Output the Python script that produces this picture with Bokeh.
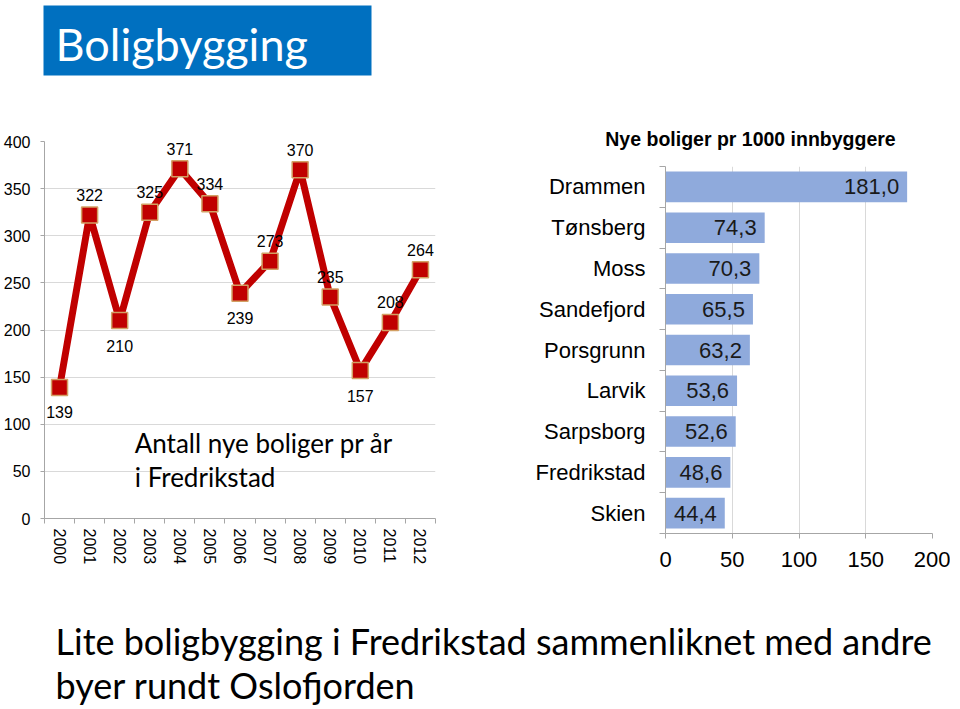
import math
from bokeh.plotting import figure
from bokeh.layouts import column, row
from bokeh.models import Range1d, FixedTicker, ColumnDataSource
from bokeh.core.properties import value
from bokeh.embed import file_html
from bokeh.resources import INLINE

# ---------------- data ----------------
years = [2000, 2001, 2002, 2003, 2004, 2005, 2006, 2007, 2008, 2009, 2010, 2011, 2012]
boliger = [139, 322, 210, 325, 371, 334, 239, 273, 370, 235, 157, 208, 264]
left_yticks = [0, 50, 100, 150, 200, 250, 300, 350, 400]

byer = ["Drammen", "Tønsberg", "Moss", "Sandefjord", "Porsgrunn",
        "Larvik", "Sarpsborg", "Fredrikstad", "Skien"]
per_1000 = [181.0, 74.3, 70.3, 65.5, 63.2, 53.6, 52.6, 48.6, 44.4]
right_xticks = [0, 50, 100, 150, 200]

main_title = "Boligbygging"
left_note = ["Antall nye boliger pr år", "i Fredrikstad"]
right_title = "Nye boliger pr 1000 innbyggere"
caption = ["Lite boligbygging i Fredrikstad sammenliknet med andre",
           "byer rundt Oslofjorden"]

# label placement (style): below point or above
label_below = [True, False, True, False, False, False, True, False, False, False, True, False, False]

ARIAL = value("Liberation Sans")
CAL = value("Lato")
W = 950
LW = 450
RW = W - LW
AXIS_GRAY = "#A6A6A6"
GRID_GRAY = "#D9D9D9"


def blank(fig):
    fig.axis.visible = False
    fig.grid.visible = False
    fig.outline_line_color = None


def canvas(width, height):
    f = figure(width=width, height=height, x_range=Range1d(0, width), y_range=Range1d(height, 0),
               title=None, toolbar_location=None, output_backend="svg", min_border=0,
               frame_align=False)
    blank(f)
    return f


# ---------------- title strip ----------------
TH = 118
tf = canvas(W, TH)
tf.quad(left=43, right=371, top=5, bottom=75, fill_color="#0070C0", line_color=None)
tf.text(x=[55], y=[43], text=[main_title], text_font=CAL, text_font_size="45px",
        text_color="white", text_baseline="middle", text_align="left")

# ---------------- left line chart ----------------
RH = 457
pl = figure(width=LW, height=RH, x_range=Range1d(1999.5, 2012.5), y_range=Range1d(0, 400),
            title=None, toolbar_location=None, output_backend="svg", frame_align=False,
            min_border_left=44, min_border_right=15, min_border_top=23, min_border_bottom=57)
pl.outline_line_color = None
pl.xgrid.visible = False
pl.ygrid.ticker = FixedTicker(ticks=left_yticks)
pl.ygrid.grid_line_color = GRID_GRAY

pl.yaxis.ticker = FixedTicker(ticks=left_yticks)
pl.yaxis.major_tick_out = 4
pl.yaxis.major_tick_in = 0
pl.yaxis.minor_tick_line_color = None
pl.yaxis.axis_line_color = AXIS_GRAY
pl.yaxis.major_tick_line_color = AXIS_GRAY
pl.yaxis.major_label_text_font = "Liberation Sans"
pl.yaxis.major_label_text_font_size = "16px"
pl.yaxis.major_label_text_color = "#000000"
pl.yaxis.major_label_standoff = 10

boundaries = [y - 0.5 for y in years] + [years[-1] + 0.5]
pl.xaxis.ticker = FixedTicker(ticks=years, minor_ticks=boundaries)
pl.xaxis.major_tick_out = 0
pl.xaxis.major_tick_in = 0
pl.xaxis.minor_tick_out = 5
pl.xaxis.minor_tick_in = 0
pl.xaxis.minor_tick_line_color = AXIS_GRAY
pl.xaxis.axis_line_color = AXIS_GRAY
pl.xaxis.major_label_orientation = -math.pi / 2
pl.xaxis.major_label_text_font = "Liberation Sans"
pl.xaxis.major_label_text_font_size = "16px"
pl.xaxis.major_label_text_color = "#000000"
pl.xaxis.major_label_standoff = 5

src = ColumnDataSource(dict(
    x=years, y=boliger, t=[str(v) for v in boliger],
    off=[25 if b else -20 for b in label_below]))
pl.line("x", "y", source=src, line_color="#C00000", line_width=7, line_join="round")
pl.scatter("x", "y", source=src, marker="square", size=16, fill_color="#C00000",
           line_color="#D2A064", line_width=1.5)
pl.text("x", "y", text="t", source=src, y_offset="off", text_align="center",
        text_baseline="middle", text_font=ARIAL, text_font_size="16px", text_color="#000000")

pl.text(x=[2002.5, 2002.5], y=[80.5, 44.5], text=left_note, text_font=CAL,
        text_font_size="26px", text_color="#000000", text_baseline="middle",
        text_align="left")

# ---------------- right bar chart ----------------
RT = 48
tr = canvas(RW, RT)
tr.text(x=[300], y=[20], text=[right_title], text_font=ARIAL, text_font_size="19.5px",
        text_font_style="bold", text_color="#000000", text_baseline="middle",
        text_align="center")

pos = [len(byer) - 1 - i for i in range(len(byer))]
pr = figure(width=RW, height=RH - RT, x_range=Range1d(0, 200),
            y_range=Range1d(-0.5, len(byer) - 0.5), title=None,
            toolbar_location=None, output_backend="svg", frame_align=False,
            min_border_left=215, min_border_right=18, min_border_top=0, min_border_bottom=42)
pr.outline_line_color = None
pr.ygrid.visible = False
pr.xgrid.ticker = FixedTicker(ticks=right_xticks)
pr.xgrid.grid_line_color = GRID_GRAY

pr.hbar(y=pos, left=0, right=per_1000, height=0.75, fill_color="#8FAADC", line_color=None)
pr.text(x=per_1000, y=pos, text=[f"{v:.1f}".replace(".", ",") for v in per_1000],
        x_offset=-8, text_align="right", text_baseline="middle", text_font=ARIAL,
        text_font_size="22px", text_color="#1A1A1A")

pr.yaxis.ticker = FixedTicker(ticks=pos, minor_ticks=[p - 0.5 for p in range(len(byer) + 1)])
pr.yaxis.major_label_overrides = {p: n for p, n in zip(pos, byer)}
pr.yaxis.major_tick_out = 0
pr.yaxis.major_tick_in = 0
pr.yaxis.minor_tick_out = 6
pr.yaxis.minor_tick_in = 0
pr.yaxis.minor_tick_line_color = AXIS_GRAY
pr.yaxis.axis_line_color = AXIS_GRAY
pr.yaxis.major_label_text_font = "Liberation Sans"
pr.yaxis.major_label_text_font_size = "22px"
pr.yaxis.major_label_text_color = "#000000"
pr.yaxis.major_label_standoff = 14

pr.xaxis.ticker = FixedTicker(ticks=right_xticks)
pr.xaxis.major_tick_out = 5
pr.xaxis.major_tick_in = 0
pr.xaxis.minor_tick_line_color = None
pr.xaxis.axis_line_color = AXIS_GRAY
pr.xaxis.major_tick_line_color = AXIS_GRAY
pr.xaxis.major_label_text_font = "Liberation Sans"
pr.xaxis.major_label_text_font_size = "22px"
pr.xaxis.major_label_text_color = "#000000"
pr.xaxis.major_label_standoff = 13

# ---------------- caption ----------------
CH = 707 - TH - RH
cf = canvas(W, CH)
cf.text(x=[55, 55], y=[640 - TH - RH, 684 - TH - RH], text=caption, text_font=CAL,
        text_font_size="36px", text_color="#000000", text_baseline="middle",
        text_align="left")

layout = column(tf, row(pl, column(tr, pr)), cf)
open("out.html", "w").write(file_html(layout, INLINE))
